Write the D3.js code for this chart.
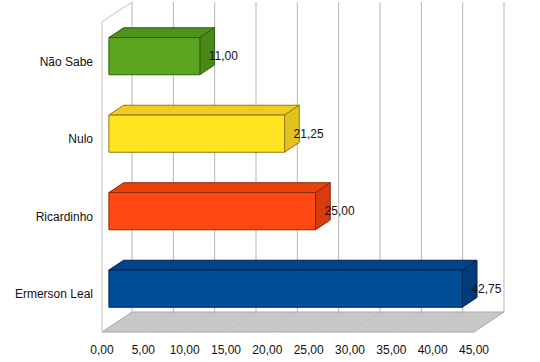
<!DOCTYPE html>
<html><head><meta charset="utf-8">
<script src="https://cdn.jsdelivr.net/npm/d3@7"></script>
<style>body{margin:0;background:#fff}svg{display:block}text{font-family:"Liberation Sans",Arial,sans-serif;font-size:12px;fill:#111}</style>
</head><body>
<script>
const categories = ["Não Sabe","Nulo","Ricardinho","Ermerson Leal"];
const values = [11.00, 21.25, 25.00, 42.75];
const ticks = [0,5,10,15,20,25,30,35,40,45];
const frontColors = ["#5ba41f","#ffe41f","#ff4814","#004c98"];
const topColors   = ["#4f921a","#f3cb1f","#e8420f","#00438a"];
const sideColors  = ["#4a8818","#e4c21d","#d83b0e","#003c7c"];
const strokeColors= ["#2f5e0e","#8f7a10","#8a2806","#00254e"];

const W=540,H=362;
const svg=d3.select("body").append("svg").attr("width",W).attr("height",H);
const DX=30, DY=-20; // full depth offset
const x=d3.scaleLinear().domain([0,45]).range([102,474]);
const y=d3.scaleBand().domain(categories).range([22,332]).paddingInner(0.52).paddingOuter(0.26);
const d0=0.23, d1=0.72;
const loc=d3.formatLocale({decimal:",",thousands:".",grouping:[3],currency:["",""]});
const fmt=loc.format(".2f");
const yTop=22, yBot=332;

// back wall gridlines
svg.append("g").selectAll("line").data(ticks).join("line")
  .attr("x1",d=>x(d)+DX).attr("x2",d=>x(d)+DX)
  .attr("y1",yTop+DY).attr("y2",yBot+DY)
  .attr("stroke","#b4b4b4").attr("stroke-width",1);

// floor
svg.append("path")
  .attr("d",`M${x(0)},${yBot}L${x(0)+DX},${yBot+DY}L${x(45)+DX},${yBot+DY}L${x(45)},${yBot}Z`)
  .attr("fill","#c8c8c8").attr("stroke","#a8a8a8");
svg.append("g").selectAll("line").data(ticks.slice(1,-1)).join("line")
  .attr("x1",d=>x(d)).attr("y1",yBot).attr("x2",d=>x(d)+DX).attr("y2",yBot+DY)
  .attr("stroke","#bdbdbd").attr("stroke-width",0.8);

// left wall
svg.append("path")
  .attr("d",`M${x(0)},${yBot}L${x(0)},${yTop}L${x(0)+DX},${yTop+DY}`)
  .attr("fill","none").attr("stroke","#c4c4c4").attr("stroke-width",1);

// bars
const g=svg.append("g");
categories.forEach((c,i)=>{
  const v=values[i];
  const fx0=x(0)+DX*d0, fx1=x(v)+DX*d0;
  const fy0=y(c)+DY*d0, fy1=fy0+y.bandwidth();
  const ox=DX*(d1-d0), oy=DY*(d1-d0);
  const bg=g.append("g").attr("stroke",strokeColors[i]).attr("stroke-width",1).attr("stroke-linejoin","round");
  bg.append("path").attr("d",`M${fx0},${fy0}L${fx1},${fy0}L${fx1+ox},${fy0+oy}L${fx0+ox},${fy0+oy}Z`).attr("fill",topColors[i]);
  bg.append("path").attr("d",`M${fx1},${fy0}L${fx1+ox},${fy0+oy}L${fx1+ox},${fy1+oy}L${fx1},${fy1}Z`).attr("fill",sideColors[i]);
  bg.append("rect").attr("x",fx0).attr("y",fy0).attr("width",fx1-fx0).attr("height",fy1-fy0).attr("fill",frontColors[i]);
  svg.append("text").attr("x",fx1+9).attr("y",(fy0+fy1)/2).attr("dy","0.35em").text(fmt(v));
});

// category labels
svg.append("g").selectAll("text").data(categories).join("text")
  .attr("x",93).attr("y",d=>y(d)+y.bandwidth()/2+1).attr("dy","0.35em")
  .attr("text-anchor","end").text(d=>d);

// tick labels
svg.append("g").selectAll("text").data(ticks).join("text")
  .attr("x",d=>x(d)).attr("y",350).attr("dy","0.35em")
  .attr("text-anchor","middle").text(d=>fmt(d));
</script>
</body></html>
